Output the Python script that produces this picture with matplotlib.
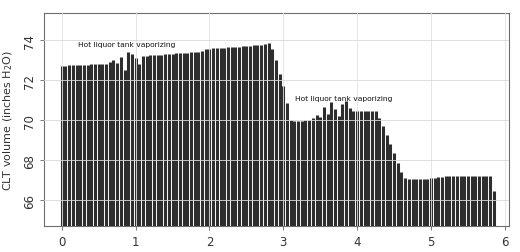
import numpy as np
import matplotlib
matplotlib.use("Agg")
import matplotlib.pyplot as plt

# Sampled CLT volume values (inches H2O), one per 0.05 time unit starting at 0
step = 0.05
clt_volume = [
    72.74, 72.74, 72.75, 72.75, 72.76, 72.77, 72.78, 72.79, 72.80, 72.80,
    72.81, 72.82, 72.83,
    72.90, 73.00, 72.85, 73.15, 72.50, 73.40, 73.30, 73.10, 72.80, 73.20,
    73.24, 73.25, 73.27, 73.28, 73.29, 73.31, 73.32, 73.34, 73.35, 73.36,
    73.38, 73.39, 73.41, 73.42, 73.43, 73.45,
    73.57, 73.58, 73.60, 73.61, 73.62, 73.64, 73.65, 73.67, 73.68, 73.69,
    73.71, 73.72, 73.74, 73.75, 73.77, 73.79, 73.81,
    73.85, 73.55, 73.00, 72.30, 71.70, 70.85, 70.00,
    69.95, 69.97, 69.98, 70.00, 70.02,
    70.10, 70.25, 70.15, 70.65, 70.30, 70.90, 70.55, 70.20, 70.80, 70.95, 70.60,
    70.45, 70.46, 70.47, 70.47, 70.48, 70.48, 70.45,
    70.10, 69.70, 69.25, 68.80, 68.35, 67.85, 67.40, 67.10,
    67.08, 67.07, 67.07, 67.08, 67.08, 67.09, 67.10,
    67.12, 67.15, 67.17, 67.20,
    67.21, 67.21, 67.22, 67.22, 67.22, 67.23, 67.23, 67.23, 67.24, 67.24,
    67.24, 67.24,
    66.45,
]
x_ticks = [0, 1, 2, 3, 4, 5, 6]
y_ticks = [66, 68, 70, 72, 74]
annotations = [
    ("Hot liquor tank vaporizing", 0.22, 73.82),
    ("Hot liquor tank vaporizing", 3.16, 71.10),
]

time = np.arange(len(clt_volume)) * step
ymin, ymax = 64.71, 75.36

fig = plt.figure(figsize=(5.2, 2.53), dpi=100)
ax = fig.add_axes([0.0852, 0.1016, 0.9794 - 0.0852, 0.9435 - 0.1016])

ax.vlines(time, ymin, clt_volume, colors="#2e2e2e", linewidth=2.2, zorder=2)

ax.set_xlim(-0.236, 6.06)
ax.set_ylim(ymin, ymax)

for t in x_ticks:
    ax.axvline(t, color="#e2e2e2", linewidth=0.6, zorder=3)
for t in y_ticks:
    ax.axhline(t, color="#d8d8d8", linewidth=0.6, zorder=3)

ax.set_xticks(x_ticks)
ax.set_yticks(y_ticks)
ax.set_xticklabels([str(t) for t in x_ticks])
ax.set_yticklabels([str(t) for t in y_ticks], rotation=90, va="center")
ax.tick_params(axis="both", length=3, width=0.6, color="#666666",
               labelcolor="#333333", labelsize=8.5, pad=3)

for s in ax.spines.values():
    s.set_color("#6e6e6e")
    s.set_linewidth(0.8)

ax.set_ylabel("CLT volume (inches H$_2$O)", fontsize=8, color="#333333",
              labelpad=6)

for text, tx, ty in annotations:
    ax.text(tx, ty, text, fontsize=5.4, color="#111111", ha="left",
            va="center", zorder=4)

fig.savefig("out.png", dpi=100)
